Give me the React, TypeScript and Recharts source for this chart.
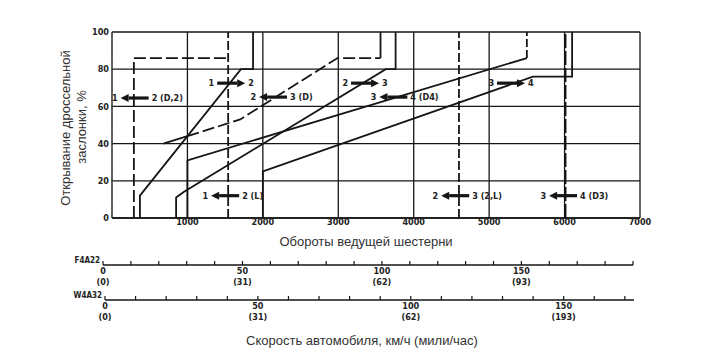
import React from "react";
import { LineChart, Line, XAxis, YAxis, CartesianGrid, ReferenceDot } from "recharts";

// turbine rpm (x) vs throttle opening % (y)
const rpmTicks = [1000, 2000, 3000, 4000, 5000, 6000, 7000];
const throttleTicks = [0, 20, 40, 60, 80, 100];

const down12D2 = [{ x: 290, y: 0 }, { x: 290, y: 86 }, { x: 1540, y: 86 }];
const down12L = [{ x: 1540, y: 0 }, { x: 1540, y: 100 }];
const up12 = [{ x: 370, y: 0 }, { x: 370, y: 12 }, { x: 1710, y: 80 }, { x: 1870, y: 80 }, { x: 1870, y: 100 }];
const down23DSolid = [{ x: 680, y: 40 }, { x: 1000, y: 44 }];
const down23DDashed = [{ x: 1000, y: 44 }, { x: 1700, y: 53 }, { x: 2990, y: 86 }, { x: 3560, y: 86 }];
const down23DTop = [{ x: 3560, y: 86 }, { x: 3560, y: 100 }];
const up23 = [{ x: 850, y: 0 }, { x: 850, y: 11 }, { x: 950, y: 14 }, { x: 3630, y: 80 }, { x: 3760, y: 80 }, { x: 3760, y: 100 }];
const down34D4 = [{ x: 1000, y: 0 }, { x: 1000, y: 31 }, { x: 5500, y: 86 }];
const down34D4Top = [{ x: 5500, y: 86 }, { x: 5500, y: 100 }];
const down23L = [{ x: 4600, y: 0 }, { x: 4600, y: 100 }];
const up34 = [{ x: 2000, y: 0 }, { x: 2000, y: 25 }, { x: 5580, y: 76 }, { x: 6100, y: 76 }, { x: 6100, y: 100 }];
const down34D3 = [{ x: 6015, y: 0 }, { x: 6015, y: 100 }];

const shiftLabels = [
  { rpm: 300, pct: 64.5, from: "1", to: "2 (D,2)", dir: "down" },
  { rpm: 1580, pct: 72.5, from: "1", to: "2", dir: "up" },
  { rpm: 2135, pct: 65, from: "2", to: "3 (D)", dir: "down" },
  { rpm: 3355, pct: 72.5, from: "2", to: "3", dir: "up" },
  { rpm: 3730, pct: 65, from: "3", to: "4 (D4)", dir: "down" },
  { rpm: 5290, pct: 72.5, from: "3", to: "4", dir: "up" },
  { rpm: 1500, pct: 12, from: "1", to: "2 (L)", dir: "down" },
  { rpm: 4550, pct: 12, from: "2", to: "3 (2,L)", dir: "down" },
  { rpm: 5980, pct: 12, from: "3", to: "4 (D3)", dir: "down" },
];

// vehicle speed scales, km/h with mph in brackets
const f4a22Ticks = [0, 10, 20, 30, 40, 50, 60, 70, 80, 90, 100, 110, 120, 130, 140, 150, 160, 170, 180, 190];
const f4a22Kmh = [0, 50, 100, 150];
const f4a22Mph = ["(0)", "(31)", "(62)", "(93)"];
const w4a32Ticks = [0, 10, 20, 30, 40, 50, 60, 70, 80, 90, 100, 110, 120, 130, 140, 150, 160, 170];
const w4a32Kmh = [0, 50, 100, 150];
const w4a32Mph = ["(0)", "(31)", "(62)", "(193)"];

const ink = "#151515";
const tickFont = { fontSize: 9, fontWeight: 700, fontFamily: "'DejaVu Sans Condensed', 'DejaVu Sans', sans-serif", fill: "#222" };
const titleFont: React.CSSProperties = { position: "absolute", fontFamily: "'Liberation Sans', Arial, sans-serif", fontSize: 13, color: "#333", whiteSpace: "nowrap" };

function ShiftArrow({ cx, cy, from, to, dir }: any) {
  const half = 14;
  const head = 8;
  const left = cx - half;
  const right = cx + half;
  const tip = dir === "up" ? right : left;
  const base = dir === "up" ? right - head : left + head;
  return (
    <g>
      <line x1={dir === "up" ? left : base} x2={dir === "up" ? base : right} y1={cy} y2={cy} stroke={ink} strokeWidth={3.2} />
      <polygon points={`${tip},${cy} ${base},${cy - 4} ${base},${cy + 4}`} fill={ink} />
      <text x={left - 3} y={cy} dy="0.35em" textAnchor="end" {...tickFont}>{from}</text>
      <text x={right + 3} y={cy} dy="0.35em" textAnchor="start" {...tickFont}>{to}</text>
    </g>
  );
}

function SpeedTick({ x, y, payload, kmh, mph }: any) {
  const i = kmh.indexOf(payload.value);
  return (
    <g>
      <line x1={x} x2={x} y1={y - 4} y2={y} stroke={ink} strokeWidth={1.2} />
      {i >= 0 && (
        <text x={x} y={y + 9} textAnchor="middle" {...tickFont}>{payload.value}</text>
      )}
      {i >= 0 && (
        <text x={x} y={y + 20} textAnchor="middle" {...tickFont}>{mph[i]}</text>
      )}
    </g>
  );
}

function SpeedScale({ top, name, ticks, kmh, mph, max, left, right }: any) {
  return (
    <div style={{ position: "absolute", left: 0, top, width: 725, height: 36 }}>
      <LineChart width={725} height={36} data={[{ x: 0 }, { x: max }]} margin={{ top: 0, right, bottom: 0, left }}>
        <XAxis
          dataKey="x"
          type="number"
          domain={[0, max]}
          ticks={ticks}
          interval={0}
          height={21}
          tickSize={0}
          tickMargin={0}
          tickLine={false}
          axisLine={{ stroke: ink, strokeWidth: 1.5 }}
          tick={<SpeedTick kmh={kmh} mph={mph} />}
        />
        <YAxis hide domain={[0, 1]} />
      </LineChart>
      <div style={{ ...titleFont, fontSize: 8, fontWeight: 700, color: "#222", right: 725 - left + 3, top: 6, fontFamily: "'DejaVu Sans Condensed', sans-serif" }}>{name}</div>
    </div>
  );
}

export default function App() {
  const line = (data: any[], dash?: string, w = 1.8) => (
    <Line
      data={data}
      dataKey="y"
      type="linear"
      stroke={ink}
      strokeWidth={w}
      strokeDasharray={dash}
      dot={false}
      activeDot={false}
      isAnimationActive={false}
    />
  );
  return (
    <div style={{ position: "absolute", left: 0, top: 0, width: 725, height: 354, background: "#fff", overflow: "hidden" }}>
      <LineChart width={725} height={250} margin={{ top: 32, right: 85, bottom: 0, left: 0 }}>
        <CartesianGrid stroke={ink} strokeWidth={1.3} />
        <XAxis
          dataKey="x"
          type="number"
          domain={[0, 7000]}
          ticks={rpmTicks}
          interval={0}
          height={32}
          tickSize={0}
          tickMargin={1}
          tickLine={false}
          axisLine={{ stroke: ink, strokeWidth: 1.5 }}
          tick={tickFont}
        />
        <YAxis
          type="number"
          domain={[0, 100]}
          ticks={throttleTicks}
          interval={0}
          width={112}
          tickSize={0}
          tickMargin={3}
          tickLine={false}
          axisLine={{ stroke: "#555", strokeWidth: 1, strokeDasharray: "6 3" }}
          tick={tickFont}
        />
        {line(down12D2, "12 4")}
        {line(down12L, "9 3")}
        {line(up12)}
        {line(down23DSolid)}
        {line(down23DDashed, "12 4")}
        {line(down23DTop)}
        {line(up23)}
        {line(down34D4)}
        {line(down34D4Top, "8 3")}
        {line(down23L, "9 3")}
        {line(up34)}
        {line(down34D3, "14 3", 1.5)}
        {shiftLabels.map((s, i) => (
          <ReferenceDot
            key={i}
            x={s.rpm}
            y={s.pct}
            r={0}
            shape={(p: any) => <ShiftArrow cx={p.cx} cy={p.cy} from={s.from} to={s.to} dir={s.dir} />}
          />
        ))}
      </LineChart>
      <div style={{ ...titleFont, left: 65, top: 128, transform: "translate(-50%, -50%) rotate(-90deg)" }}>Открывание дроссельной</div>
      <div style={{ ...titleFont, left: 81, top: 127, transform: "translate(-50%, -50%) rotate(-90deg)" }}>заслонки, %</div>
      <div style={{ ...titleFont, left: 366, top: 241, transform: "translate(-50%, -50%)" }}>Обороты ведущей шестерни</div>
      <SpeedScale top={250} name="F4A22" ticks={f4a22Ticks} kmh={f4a22Kmh} mph={f4a22Mph} max={190} left={103} right={92} />
      <SpeedScale top={285} name="W4A32" ticks={w4a32Ticks} kmh={w4a32Kmh} mph={w4a32Mph} max={173} left={105} right={91} />
      <div style={{ ...titleFont, left: 362, top: 340, transform: "translate(-50%, -50%)" }}>Скорость автомобиля, км/ч (мили/час)</div>
    </div>
  );
}
